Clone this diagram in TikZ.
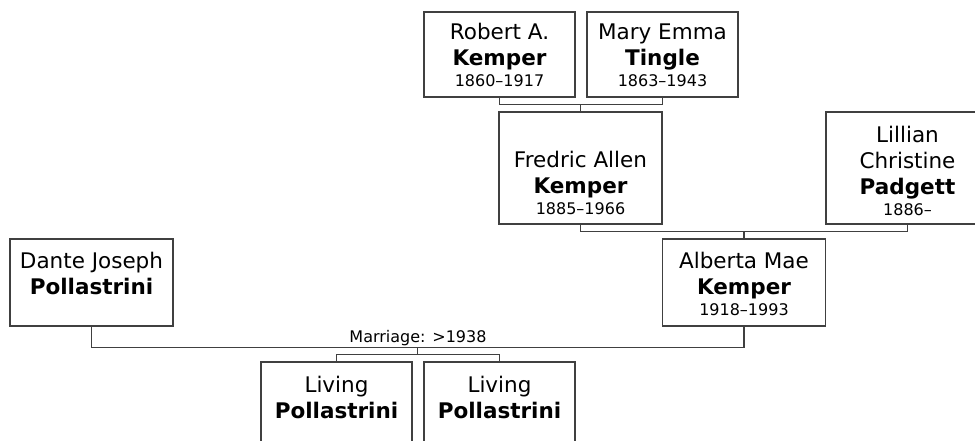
\documentclass[tikz,border=0pt]{standalone}
\usepackage{fontspec}
\setmainfont{DejaVu Sans}
\usetikzlibrary{calc}
\definecolor{linec}{HTML}{404040}
\begin{document}
\begin{tikzpicture}[x=1pt,y=-1pt,
  box/.style={draw=linec, line width=1.1pt, rectangle, inner sep=0pt, fill=white},
  txt/.style={anchor=north, align=center, inner sep=0pt, font=\fontsize{21.5}{26}\selectfont},
  conn/.style={draw=linec, line width=1.1pt},
  small/.style={font=\fontsize{16}{20}\selectfont}]
\newcommand\yrs[1]{\\[-5pt]{\fontsize{16}{20}\selectfont #1}}
\useasboundingbox (0,0) rectangle (975,441);
\fill[white] (0,0) rectangle (975,441);
\clip (0,0) rectangle (975,441);

% boxes
\node[box, minimum width=151pt, minimum height=85pt] (robert) at (499.5,54.5) {};
\node[box, minimum width=151pt, minimum height=85pt] (mary) at (662.5,54.5) {};
\node[box, minimum width=163pt, minimum height=112pt] (fredric) at (580.5,168) {};
\node[box, minimum width=163pt, minimum height=112pt] (lillian) at (907.5,168) {};
\node[box, minimum width=163pt, minimum height=87pt] (dante) at (91.5,282.5) {};
\node[box, minimum width=163pt, minimum height=87pt] (alberta) at (744,282.5) {};
\node[box, minimum width=151pt, minimum height=87pt] (child1) at (336.5,405.5) {};
\node[box, minimum width=151pt, minimum height=87pt] (child2) at (499.5,405.5) {};

% texts
\node[txt] (robert-t) at (499.5,22.7) {Robert A.\\\textbf{Kemper}\yrs{1860–1917}};
\node[txt] (mary-t) at (662.5,23.3) {Mary Emma\\\textbf{Tingle}\yrs{1863–1943}};
\node[txt] (fredric-t) at (580.5,150.7) {Fredric Allen\\\textbf{Kemper}\yrs{1885–1966}};
\node[txt] (lillian-t) at (907.5,125.7) {Lillian\\Christine\\\textbf{Padgett}\yrs{1886–}};
\node[txt] (dante-t) at (91.5,251.7) {Dante Joseph\\\textbf{Pollastrini}};
\node[txt] (alberta-t) at (744,251.7) {Alberta Mae\\\textbf{Kemper}\yrs{1918–1993}};
\node[txt] (child1-t) at (336.5,375.7) {Living\\\textbf{Pollastrini}};
\node[txt] (child2-t) at (499.5,375.7) {Living\\\textbf{Pollastrini}};

% connectors
\draw[conn] (robert.south) -- ++(0,7) coordinate (rm0) -| (mary.south);
\draw[conn] (fredric.north) -- (fredric.north |- rm0);

\draw[conn] (fredric.south) -- ++(0,7) coordinate (fl0) -| (lillian.south);
\draw[conn] (alberta.north) -- (alberta.north |- fl0);

\draw[conn] (dante.south) -- ++(0,21) coordinate (da0) -| (alberta.south);
\coordinate (dam) at ($(da0)!0.5!(da0 -| alberta.south)$);
\draw[conn] (dam) -- ++(0,7) coordinate (cc);
\draw[conn] (child1.north) |- (cc) -| (child2.north);

\node[small, anchor=base, inner sep=0pt] (mlabel) at (418,342) {Marriage: >1938};
\end{tikzpicture}
\end{document}
